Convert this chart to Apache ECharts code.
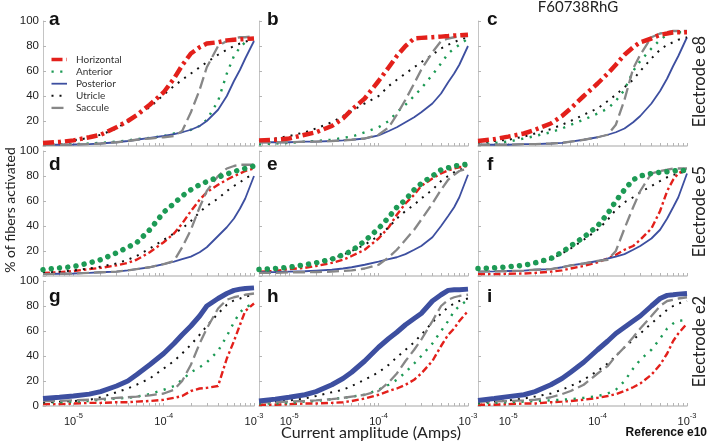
<!DOCTYPE html>
<html>
<head>
<meta charset="utf-8">
<script src="https://cdn.jsdelivr.net/npm/echarts@6/dist/echarts.min.js"></script>
<style>
html,body{margin:0;padding:0;background:#fff;}
#chart{width:708px;height:442px;}
</style>
</head>
<body>
<div id="chart"></div>
<script>
// ---------- DATA ----------
// current amplitudes (Amps) at which the curves were read
const AMPS = [4.6e-6, 7e-6, 1e-5, 1.5e-5, 2e-5, 3e-5, 4e-5, 5e-5, 7e-5, 1e-4, 1.3e-4, 1.6e-4, 2e-4, 2.5e-4, 3e-4, 4e-4, 5e-4, 6e-4, 7e-4, 8e-4, 1e-3];
const SERIES_NAMES = ['Horizontal', 'Anterior', 'Posterior', 'Utricle', 'Saccule'];
const PANEL_LETTERS = ['a', 'b', 'c', 'd', 'e', 'f', 'g', 'h', 'i'];
const ROW_LABELS = ['Electrode e8', 'Electrode e5', 'Electrode e2'];
const X_LABEL_VALUES = [1e-5, 1e-4, 1e-3];
const X_MINOR_TICKS = [5e-6, 6e-6, 7e-6, 8e-6, 9e-6, 1e-5, 2e-5, 3e-5, 4e-5, 5e-5, 6e-5, 7e-5, 8e-5, 9e-5, 1e-4, 2e-4, 3e-4, 4e-4, 5e-4, 6e-4, 7e-4, 8e-4, 9e-4, 1e-3];
const TITLE = 'F60738RhG';
const X_TITLE = 'Current amplitude (Amps)';
const Y_TITLE = '% of fibers activated';
const FOOTNOTE = 'Reference e10';

// % of fibers activated — panel a (Electrode e8)
const aHorizontal = [2.4, 3.2, 4.5, 7, 9, 15, 20, 24.5, 33, 43, 54, 64.5, 74, 79, 82, 83, 84.5, 85, 85.3, 85.6, 86];
const aAnterior   = [1, 1.2, 1.5, 2, 2.5, 3.5, 4.5, 5.5, 6.5, 8, 10, 11.5, 13, 16, 21, 36, 58, 72, 79, 83, 87];
const aPosterior  = [1, 1, 1.2, 1.5, 2, 3, 4, 5, 6.5, 8, 9.5, 11, 13, 16, 20, 29, 40, 52, 61, 70, 84];
const aUtricle    = [2, 3, 4.5, 6.5, 9, 14, 20, 24, 31, 41, 48, 53, 58, 63, 67, 73, 77, 80, 82, 83.5, 85];
const aSaccule    = [1, 1, 1.2, 1.5, 2, 3, 4, 5, 6, 7, 8, 12, 27, 45, 63, 80, 84, 86, 87, 87, 88];
// panel b
const bHorizontal = [4.5, 5, 6, 9, 11, 16, 22, 29, 38, 52, 63, 72, 80, 86, 86.5, 87, 87.5, 88, 88.5, 88.5, 89];
const bAnterior   = [1.3, 2, 2.5, 3.5, 4, 5, 6.5, 7.5, 11, 15, 20, 27, 33, 40, 46, 57, 66, 74, 78, 81, 86];
const bPosterior  = [3, 3, 3, 3.5, 3.5, 4, 4.5, 5, 6, 8.5, 12, 15, 19, 23, 27, 34, 42, 51, 58, 65, 80];
const bUtricle    = [4, 6, 8, 11, 14, 19, 24, 28, 34, 40, 48, 53, 58, 63, 67, 73, 78, 81, 83, 85, 87];
const bSaccule    = [3, 3, 3, 3.5, 3.5, 4, 4.5, 5, 6, 9, 15, 25, 37, 50, 61, 75, 84, 86, 87, 87.5, 88];
// panel c
const cHorizontal = [4, 5.5, 7.5, 10, 13, 18, 24, 30, 40, 50, 58, 65, 73, 79, 83, 86, 89, 90, 91, 91, 91];
const cAnterior   = [1.5, 2.4, 3.5, 6, 8, 11, 14, 17, 21, 26, 30, 36, 45, 60, 68, 78, 85, 89, 90, 91, 91];
const cPosterior  = [1, 1, 1, 1.5, 1.5, 2, 2.5, 3.5, 5, 7, 9, 11, 14, 19, 24, 34, 44, 54, 64, 72, 87];
const cUtricle    = [3, 4, 5, 7.5, 10, 13.5, 17, 20, 25, 30, 36, 41, 47, 53, 60, 70, 77, 81, 83, 85, 87];
const cSaccule    = [1, 1, 1, 1.5, 1.5, 2, 2.5, 3.5, 5, 7, 9, 17, 37, 62, 73, 87, 90, 91, 92, 92, 92];
// panel d (Electrode e5)
const dHorizontal = [2.5, 3, 4, 5.5, 6.5, 8.5, 10.5, 13, 19, 27, 34, 42, 52, 61, 67, 73, 77, 80, 82, 84, 86];
const dAnterior   = [5, 6.5, 7.5, 10.5, 13, 18.5, 23, 26.5, 37, 51, 58, 64, 69, 73, 75.5, 79, 81.5, 83.5, 85, 86, 88];
const dPosterior  = [1.5, 1.8, 2, 2.5, 3, 3.5, 4.5, 5.5, 7, 9.5, 11.5, 13.5, 15.5, 19, 23, 32, 39, 46, 54, 62, 80];
const dUtricle    = [2.5, 3.5, 4.5, 6, 7.5, 10, 13, 16, 22, 29, 34, 38, 44, 51, 56, 62, 68, 72, 75, 78, 82];
const dSaccule    = [1.5, 1.8, 2, 2.5, 3, 3.5, 4.5, 5.5, 7, 9.5, 12, 23, 37, 55, 68, 80, 86, 88, 89, 89, 89];
// panel e
const eHorizontal = [3.5, 4, 5.5, 6.5, 8, 10.5, 13, 16, 21, 30, 39, 49, 58, 65, 72, 78, 82, 84.5, 86, 87, 88];
const eAnterior   = [5.3, 6, 7, 9, 10.5, 13.5, 17, 20, 28, 38, 47, 55, 61, 69, 74, 80, 85, 86.5, 88, 88.5, 89.5];
const ePosterior  = [3, 3.2, 3.5, 3.8, 4.3, 5, 6, 7, 9, 11.5, 13.5, 15, 17.5, 21, 24, 31, 40, 48, 55, 63, 81];
const eUtricle    = [4, 5, 7, 9, 11, 14, 17, 20, 25, 32, 39, 46, 52, 57, 62, 69, 76, 80, 83, 85, 86];
const eSaccule    = [2.5, 2.5, 3, 3, 3.2, 3.5, 4, 4.5, 6, 9, 15, 21, 29, 37, 45, 58, 69, 77, 81, 84, 86];
// panel f
const fHorizontal = [1.5, 1.5, 1.8, 2, 2.5, 3.5, 4.5, 6, 8, 11, 14, 17, 21, 24, 29, 38, 52, 68, 77, 82, 86];
const fAnterior   = [6, 6.5, 7.3, 8.6, 10.5, 14, 19, 24, 31, 40, 50, 60, 69, 77, 80, 82, 83, 83.5, 84, 84.5, 84.5];
const fPosterior  = [3.5, 3.7, 4, 4.3, 5, 5.5, 7, 8.5, 10, 12, 14, 15.5, 17.5, 21, 24, 30, 37, 46, 55, 63, 82];
const fUtricle    = [5, 6, 7, 8.6, 10, 13.5, 18, 22, 29, 37, 45, 53, 59, 63, 67, 72, 76, 79, 81, 82, 84];
const fSaccule    = [3.5, 3.7, 4, 4.3, 5, 5.5, 7, 8.5, 10, 12, 13, 20, 38, 55, 68, 82, 84, 85, 86, 86, 86];
// panel g (Electrode e2)
const gHorizontal = [1.5, 1.5, 2, 2.5, 2.5, 3, 3, 3.5, 4, 5, 6.5, 8, 12, 14, 14.5, 16, 38, 52, 65, 76, 82];
const gAnterior   = [3, 3, 3.5, 4, 5, 6, 6.5, 7.5, 9.5, 13, 16, 21, 27, 31, 35, 44, 56, 67, 75, 79, 82];
const gPosterior  = [6, 7, 8, 9.5, 11.5, 16, 20, 25, 33, 42, 50, 57, 64, 72, 80, 86, 90, 92.5, 93.5, 94, 94.5];
const gUtricle    = [3, 3.5, 4, 5, 7, 11, 14, 17, 22, 30, 36, 42, 49, 57, 64, 74, 81, 84.5, 86, 87.5, 89];
const gSaccule    = [4, 4, 4.5, 5, 5.5, 6.5, 7, 7.5, 8.5, 10, 13, 20, 33, 50, 62, 78, 85, 87, 88, 89, 90];
// panel h
const hHorizontal = [1, 1, 1.5, 2, 2, 2.5, 3, 4, 6, 9, 12, 14, 17, 21, 26, 36, 48, 57, 62, 68, 76];
const hAnterior   = [2, 2, 2.5, 3.5, 4, 5.5, 6.5, 7.5, 9, 13, 17, 21, 27, 34, 40, 50, 60, 68, 76, 80, 85];
const hPosterior  = [4, 5.5, 7, 9, 11.5, 17, 22, 27, 36, 47, 54, 59, 65, 70, 74, 84, 89, 92.5, 93, 93, 93.5];
const hUtricle    = [3, 3.5, 4.5, 6, 8, 11, 13, 16, 21, 27, 33, 39, 45, 51, 57, 67, 74, 79, 82, 84, 86];
const hSaccule    = [3, 3, 3.5, 4, 4.5, 5.5, 6.5, 7.5, 9, 12, 19, 26, 36, 45, 53, 68, 80, 85, 87, 88, 89];
// panel i
const iHorizontal = [1, 1, 1.5, 2, 2, 3, 3.5, 4, 5, 6.5, 8, 9.5, 12, 15, 18, 25, 33, 42, 52, 58, 66];
const iAnterior   = [2, 2.5, 3, 3.5, 4, 4.5, 5, 5.5, 6.5, 8, 10, 13, 20, 30, 37, 45, 54, 62, 66, 68, 69];
const iPosterior  = [4.5, 6, 7.5, 9, 11.5, 17, 22, 27, 35, 45, 52, 58, 63, 68, 72, 80, 86, 88.5, 89, 89.5, 90];
const iUtricle    = [3, 3.5, 4.5, 6, 7.5, 10, 13, 16, 21, 28, 34, 40, 47, 53, 58, 66, 72, 77, 80, 82, 84];
const iSaccule    = [3.5, 3.7, 4, 4.5, 5, 7, 9.5, 12, 17, 26, 32, 40, 47, 55, 62, 72, 80, 84, 85, 86, 87];

const PANELS = [
  [aHorizontal, aAnterior, aPosterior, aUtricle, aSaccule],
  [bHorizontal, bAnterior, bPosterior, bUtricle, bSaccule],
  [cHorizontal, cAnterior, cPosterior, cUtricle, cSaccule],
  [dHorizontal, dAnterior, dPosterior, dUtricle, dSaccule],
  [eHorizontal, eAnterior, ePosterior, eUtricle, eSaccule],
  [fHorizontal, fAnterior, fPosterior, fUtricle, fSaccule],
  [gHorizontal, gAnterior, gPosterior, gUtricle, gSaccule],
  [hHorizontal, hAnterior, hPosterior, hUtricle, hSaccule],
  [iHorizontal, iAnterior, iPosterior, iUtricle, iSaccule]
];

// ---------- LAYOUT / STYLE ----------
const COL_LEFT = [43, 259, 478];
const COL_WIDTH = [211, 209, 209];
const ROW_TOP = [21, 151, 281];
const ROW_HEIGHT = 125;
const TICK_FONT = '"Liberation Sans", Arial, sans-serif';
const TEXT_FONT = 'Lato, "Liberation Sans", sans-serif';
const AXIS_GRAY = '#c4c4c4';

const COLORS = {Horizontal: '#e3201b', Anterior: '#1d9a55', Posterior: '#3d4fa0', Utricle: '#111111', Saccule: '#878787'};
// emphasised (thick) series per electrode row
const THICK_BY_ROW = ['Horizontal', 'Anterior', 'Posterior'];

function lineStyleFor(name, thick) {
  const c = COLORS[name];
  switch (name) {
    case 'Horizontal':
      return thick ? {color: c, width: 4.5, type: [11, 4, 3, 4], cap: 'butt'}
                   : {color: c, width: 2.4, type: [7, 3, 2.5, 3], cap: 'butt'};
    case 'Anterior':
      return thick ? {color: c, width: 5.5, type: [0.01, 8.3], cap: 'round'}
                   : {color: c, width: 2.4, type: [2.2, 6.5], cap: 'butt'};
    case 'Posterior':
      return thick ? {color: c, width: 5, type: 'solid', cap: 'butt'} : {color: c, width: 1.8, type: 'solid', cap: 'butt'};
    case 'Utricle':
      return {color: c, width: 2, type: [2, 6], cap: 'butt'};
    default:
      return {color: c, width: 2.3, type: [12, 5], cap: 'butt'};
  }
}

const grids = [], xAxes = [], yAxes = [], series = [], graphics = [];

for (let p = 0; p < 9; p++) {
  const row = Math.floor(p / 3), col = p % 3;
  grids.push({left: COL_LEFT[col], top: ROW_TOP[row], width: COL_WIDTH[col], height: ROW_HEIGHT, containLabel: false});
  xAxes.push({
    type: 'log', logBase: 10, gridIndex: p, min: AMPS[0], max: 1e-3,
    axisLine: {show: true, lineStyle: {color: AXIS_GRAY, width: 1.5}},
    axisTick: {show: true, inside: true, length: 3, customValues: X_MINOR_TICKS, lineStyle: {color: '#b5b5b5', width: 1}},
    minorTick: {show: false},
    splitLine: {show: false},
    axisLabel: {
      show: row === 2, customValues: X_LABEL_VALUES, margin: 6,
      formatter: function (v) {
        const e = Math.round(Math.log10(v));
        if (Math.abs(Math.log10(v) - e) > 1e-6) return '';
        return '{b|10}{s|' + e + '}';
      },
      rich: {
        b: {fontSize: 11, fontFamily: TICK_FONT, color: '#222', lineHeight: 15, verticalAlign: 'bottom'},
        s: {fontSize: 7.5, fontFamily: TICK_FONT, color: '#222', lineHeight: 15, verticalAlign: 'top'}
      }
    }
  });
  yAxes.push({
    type: 'value', gridIndex: p, min: 0, max: 100, interval: 20,
    axisLine: {show: true, lineStyle: {color: AXIS_GRAY, width: 1}},
    axisTick: {show: true, inside: true, length: 3, lineStyle: {color: '#b5b5b5'}},
    splitLine: {show: false},
    axisLabel: {
      show: col === 0, margin: 4, fontSize: 11.5, fontFamily: TICK_FONT, color: '#222',
      formatter: function (v) { return (v === 0 && row !== 2) ? '' : String(v); }
    }
  });
  PANELS[p].forEach(function (vals, s) {
    const name = SERIES_NAMES[s];
    const thick = THICK_BY_ROW[row] === name;
    series.push({
      type: 'line', name: name, xAxisIndex: p, yAxisIndex: p,
      data: AMPS.map(function (x, k) { return [x, vals[k]]; }),
      symbol: 'none', showSymbol: false, smooth: false,
      color: COLORS[name],
      lineStyle: lineStyleFor(name, thick),
      z: thick ? 3 : 2,
      emphasis: {disabled: true}, silent: true
    });
  });
  // panel letter
  const letterY = [20, 165, 297][row];
  graphics.push({type: 'text', x: COL_LEFT[col] + [6, 8, 9][col], y: letterY, silent: true,
    style: {text: PANEL_LETTERS[p], font: 'bold 19px ' + TICK_FONT, fill: '#111', align: 'left', verticalAlign: 'middle'}});
}

// legend drawn as sample strokes + real text (inside panel a)
SERIES_NAMES.forEach(function (name, k) {
  const y = 59.5 + k * 12.1;
  const ls = lineStyleFor(name, name === 'Horizontal');
  const dash = Array.isArray(ls.type) ? ls.type : null;
  graphics.push({type: 'line', silent: true,
    shape: {x1: 51.5, y1: y, x2: 67, y2: y},
    style: {stroke: ls.color, lineWidth: name === 'Horizontal' ? 3.5 : ls.width, lineDash: dash, lineCap: ls.cap || 'butt'}});
  graphics.push({type: 'text', x: 76, y: y, silent: true,
    style: {text: name, font: '10px ' + TEXT_FONT, fill: '#333', align: 'left', verticalAlign: 'middle'}});
});

ROW_LABELS.forEach(function (t, r) {
  graphics.push({type: 'text', x: 700, y: ROW_TOP[r] + ROW_HEIGHT / 2 - 2, rotation: Math.PI / 2, silent: true,
    style: {text: t, font: '16.5px ' + TEXT_FONT, fill: '#222', align: 'center', verticalAlign: 'middle'}});
});
graphics.push({type: 'text', x: 578, y: 7, silent: true, style: {text: TITLE, font: '15px ' + TEXT_FONT, fill: '#222', align: 'center', verticalAlign: 'middle'}});
graphics.push({type: 'text', x: 10, y: 210, rotation: Math.PI / 2, silent: true,
  style: {text: Y_TITLE, font: '14px ' + TEXT_FONT, fill: '#222', align: 'center', verticalAlign: 'middle'}});
graphics.push({type: 'text', x: 371, y: 433, silent: true, style: {text: X_TITLE, font: '16px ' + TEXT_FONT, fill: '#222', align: 'center', verticalAlign: 'middle'}});
graphics.push({type: 'text', x: 707, y: 433, silent: true, style: {text: FOOTNOTE, font: 'bold 12px ' + TICK_FONT, fill: '#111', align: 'right', verticalAlign: 'middle'}});

const chart = echarts.init(document.getElementById('chart'), null, {renderer: 'canvas'});
chart.setOption({
  animation: false,
  backgroundColor: '#ffffff',
  grid: grids,
  xAxis: xAxes,
  yAxis: yAxes,
  series: series,
  graphic: graphics
});
</script>
</body>
</html>
